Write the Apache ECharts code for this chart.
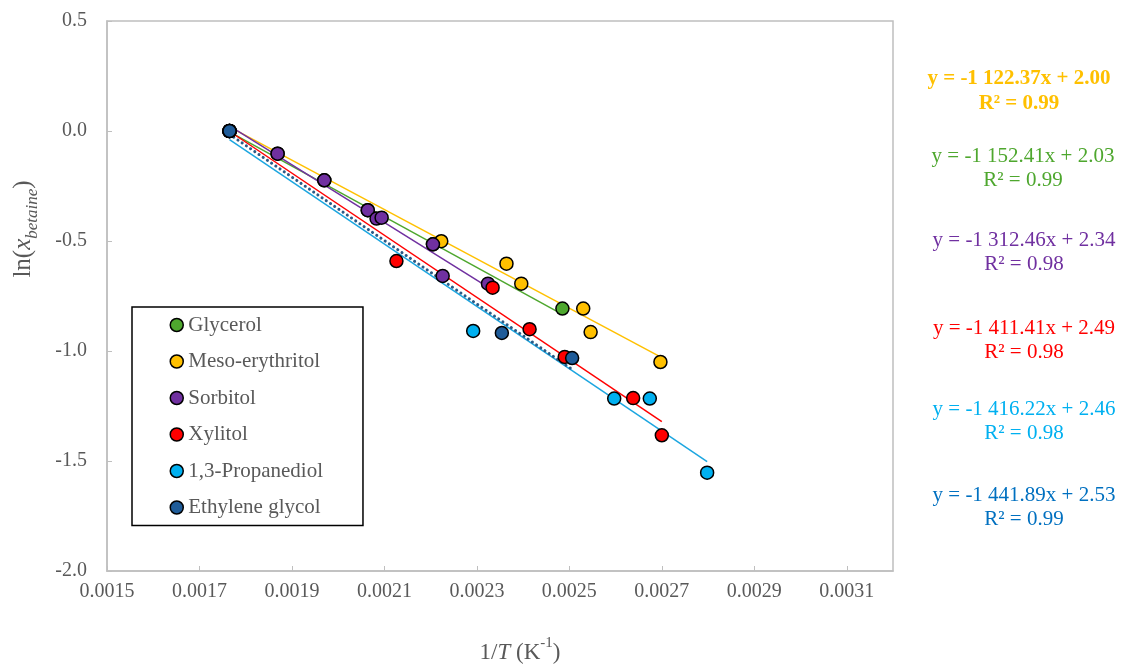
<!DOCTYPE html>
<html><head><meta charset="utf-8">
<script src="https://cdn.jsdelivr.net/npm/echarts@6/dist/echarts.min.js"></script>
<style>html,body{margin:0;padding:0;background:#fff}#c{width:1121px;height:668px}</style>
</head><body><div id="c"></div>
<script>
// ---- data ----
const seriesNames = ['Glycerol', 'Meso-erythritol', 'Sorbitol', 'Xylitol', '1,3-Propanediol', 'Ethylene glycol'];

const xGlycerol = [0.001765, 0.001869, 0.001970, 0.002064, 0.002205, 0.002485];
const yGlycerol = [0, -0.103, -0.224, -0.360, -0.515, -0.807];

const xErythritol = [0.001765, 0.002223, 0.002364, 0.002396, 0.002530, 0.002546, 0.002697];
const yErythritol = [0, -0.501, -0.603, -0.694, -0.807, -0.914, -1.050];

const xSorbitol = [0.001765, 0.001869, 0.001970, 0.002064, 0.002083, 0.002094, 0.002205, 0.002226, 0.002324];
const ySorbitol = [0, -0.103, -0.224, -0.360, -0.398, -0.394, -0.515, -0.659, -0.694];

const xXylitol = [0.001765, 0.002126, 0.002334, 0.002414, 0.002490, 0.002638, 0.002700];
const yXylitol = [0, -0.591, -0.712, -0.901, -1.027, -1.214, -1.383];

const xPropanediol = [0.001765, 0.002292, 0.002597, 0.002674, 0.002798];
const yPropanediol = [0, -0.909, -1.216, -1.216, -1.553];

const xEthylene = [0.001765, 0.002354, 0.002506];
const yEthylene = [0, -0.918, -1.032];

const slopes = [-1152.41, -1122.37, -1312.46, -1411.41, -1416.22, -1441.89];
const intercepts = [2.03, 2.00, 2.34, 2.49, 2.46, 2.53];
const r2Values = [0.99, 0.99, 0.98, 0.98, 0.98, 0.99];

const xTicks = [0.0015, 0.0017, 0.0019, 0.0021, 0.0023, 0.0025, 0.0027, 0.0029, 0.0031];
const yTicks = [-2.0, -1.5, -1.0, -0.5, 0.0, 0.5];

// ---- styling ----
const markerColors = ['#4EA72E', '#FFC000', '#7030A0', '#FF0000', '#00B0F0', '#1F5C99'];
const lineColors = ['#4EA72E', '#FFC000', '#7030A0', '#FF0000', '#1CA6E0', '#2B5A86'];
const eqColors = ['#4EA72E', '#FFC000', '#7030A0', '#FF0000', '#00B0F0', '#0070C0'];
const FONT = 'Liberation Serif';

const xs = [xGlycerol, xErythritol, xSorbitol, xXylitol, xPropanediol, xEthylene];
const ys = [yGlycerol, yErythritol, ySorbitol, yXylitol, yPropanediol, yEthylene];

const series = [];
// trend lines
seriesNames.forEach((n, i) => {
  const x0 = Math.min.apply(null, xs[i]), x1 = Math.max.apply(null, xs[i]);
  const isDot = i === 5;
  series.push({
    name: n + ' trend', type: 'line', silent: true, symbol: 'none', z: 2,
    data: [[x0, slopes[i] * x0 + intercepts[i]], [x1, slopes[i] * x1 + intercepts[i]]],
    lineStyle: isDot ? { color: lineColors[i], width: 3, type: [0.1, 5], cap: 'round' }
                     : { color: lineColors[i], width: 1.5 }
  });
});
// markers
seriesNames.forEach((n, i) => {
  series.push({
    name: n, type: 'scatter', z: 5, symbol: 'circle', symbolSize: 13,
    data: xs[i].map((x, k) => [x, ys[i][k]]),
    itemStyle: { color: markerColors[i], borderColor: '#000', borderWidth: 1.5, opacity: 1 }
  });
});

function fmtSlope(s) {
  const a = Math.abs(s).toFixed(2);
  const parts = a.split('.');
  const intp = parts[0].replace(/\B(?=(\d{3})+(?!\d))/g, ' ');
  return (s < 0 ? '-' : '') + intp + '.' + parts[1];
}

// equation layout (order on the right: erythritol, glycerol, sorbitol, xylitol, propanediol, ethylene)
const eqOrder = [1, 0, 2, 3, 4, 5];
const eqPos = [[1019, 79], [1023, 156], [1024, 240], [1024, 328], [1024, 409], [1024, 495]];
const graphics = [];
eqOrder.forEach((si, k) => {
  const bold = si === 1;
  graphics.push({
    type: 'text', x: eqPos[k][0], y: eqPos[k][1],
    style: { text: 'y = ' + fmtSlope(slopes[si]) + 'x + ' + intercepts[si].toFixed(2),
      fill: eqColors[si], font: (bold ? 'bold ' : '') + '21px "' + FONT + '"',
      textAlign: 'center', textVerticalAlign: 'middle' }
  });
  graphics.push({
    type: 'text', x: eqPos[k][0], y: eqPos[k][1] + 24.5,
    style: { text: 'R² = ' + r2Values[si].toFixed(2),
      fill: eqColors[si], font: (bold ? 'bold ' : '') + '21px "' + FONT + '"',
      textAlign: 'center', textVerticalAlign: 'middle' }
  });
});
// axis titles
graphics.push({
  type: 'text', x: 26, y: 229, rotation: Math.PI / 2,
  style: {
    text: '{a|ln(}{i|x}{s|betaine}{a|)}', textAlign: 'center', textVerticalAlign: 'middle',
    rich: {
      a: { fontFamily: FONT, fontSize: 25, fill: '#595959', lineHeight: 30, verticalAlign: 'top' },
      i: { fontFamily: FONT, fontSize: 25, fontStyle: 'italic', fill: '#595959', lineHeight: 30, verticalAlign: 'top' },
      s: { fontFamily: FONT, fontSize: 17, fontStyle: 'italic', fill: '#595959', lineHeight: 17, verticalAlign: 'bottom' }
    }
  }
});
graphics.push({
  type: 'text', x: 520, y: 650,
  style: {
    text: '{a|1/}{i|T}{a| (K}{p|-1}{a|)}', textAlign: 'center', textVerticalAlign: 'middle',
    rich: {
      a: { fontFamily: FONT, fontSize: 23, fill: '#595959', lineHeight: 28, verticalAlign: 'bottom' },
      i: { fontFamily: FONT, fontSize: 23, fontStyle: 'italic', fill: '#595959', lineHeight: 28, verticalAlign: 'bottom' },
      p: { fontFamily: FONT, fontSize: 15, fill: '#595959', lineHeight: 15, verticalAlign: 'top' }
    }
  }
});

const chart = echarts.init(document.getElementById('c'), null, { renderer: 'canvas' });
chart.setOption({
  animation: false,
  backgroundColor: '#fff',
  grid: { left: 107, right: 228, top: 21, bottom: 97, show: true, borderColor: '#BFBFBF', borderWidth: 1.5, backgroundColor: 'transparent' },
  xAxis: {
    type: 'value', min: 0.0015, max: 0.0032,
    axisLine: { show: true, onZero: false, lineStyle: { color: '#BFBFBF', width: 1.5 } },
    axisTick: { show: true, inside: true, length: 5, lineStyle: { color: '#BFBFBF' }, customValues: xTicks },
    axisLabel: { customValues: xTicks, margin: 11, color: '#595959', fontFamily: FONT, fontSize: 20,
      formatter: v => v.toFixed(4) },
    splitLine: { show: false }
  },
  yAxis: {
    type: 'value', min: -2, max: 0.5, interval: 0.5,
    axisLine: { show: true, onZero: false, lineStyle: { color: '#BFBFBF', width: 1.5 } },
    axisTick: { show: true, inside: true, length: 5, lineStyle: { color: '#BFBFBF' }, customValues: yTicks },
    axisLabel: { customValues: yTicks, margin: 20, color: '#595959', fontFamily: FONT, fontSize: 20,
      formatter: v => v.toFixed(1) },
    splitLine: { show: false }
  },
  legend: {
    data: seriesNames, orient: 'vertical', left: 132, top: 307,
    padding: [7.5, 40, 7.5, 37.5], itemGap: 15.5, itemWidth: 13, itemHeight: 13,
    icon: 'circle', borderColor: '#000', borderWidth: 1.5, backgroundColor: '#fff',
    itemStyle: { borderColor: '#000', borderWidth: 1.5 },
    textStyle: { fontFamily: FONT, fontSize: 21, color: '#595959' }
  },
  graphic: graphics,
  series: series
});
</script>
</body></html>
